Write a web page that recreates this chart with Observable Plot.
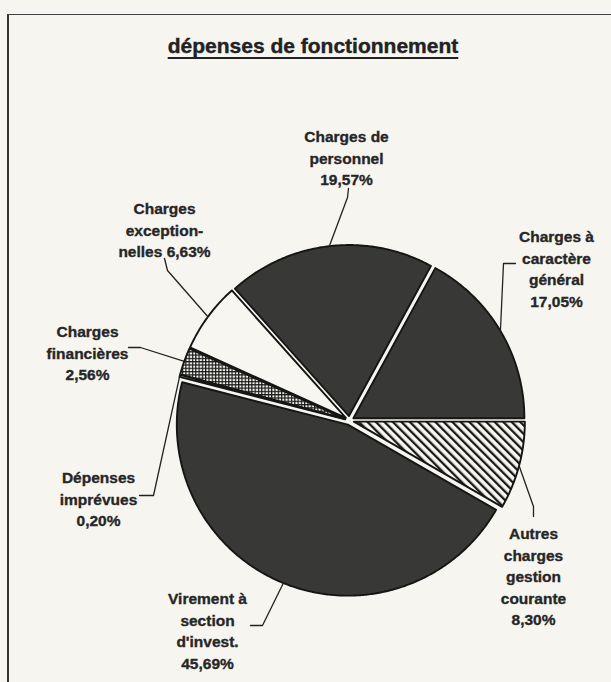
<!DOCTYPE html>
<html>
<head>
<meta charset="utf-8">
<script src="https://cdn.jsdelivr.net/npm/d3@7"></script>
<script src="https://cdn.jsdelivr.net/npm/@observablehq/plot@0.6"></script>
<style>
  html, body { margin: 0; padding: 0; background: #f6f5f0; }
  #wrap { position: relative; width: 611px; height: 682px; overflow: hidden; background: #f6f5f0;
          font-family: "Liberation Sans", Arial, Helvetica, sans-serif; }
  #frame { position: absolute; left: 7px; top: 14px; width: 700px; height: 800px;
           border-left: 2px solid #333; border-top: 1.5px solid #444; }
  #title { position: absolute; top: 34px; left: 0; width: 626px; text-align: center;
           font-weight: bold; font-size: 21px; line-height: 24px; color: #222;
           -webkit-text-stroke: 0.4px #222;
           text-decoration: underline; text-decoration-thickness: 2px; text-underline-offset: 4px; }
  #chart { position: absolute; top: 90px; left: 0; }
</style>
</head>
<body>
<svg width="0" height="0" style="position:absolute">
  <defs>
    <pattern id="cross" width="3.3" height="3.3" patternUnits="userSpaceOnUse">
      <rect width="3.3" height="3.3" fill="#f7f6f1"/>
      <path d="M0 0.6H3.3M0.6 0V3.3" stroke="#1a1a1a" stroke-width="1.2"/>
    </pattern>
    <pattern id="stripes" width="6" height="6" patternUnits="userSpaceOnUse" patternTransform="rotate(-45)">
      <rect width="6" height="6" fill="#f7f6f1"/>
      <rect width="2.3" height="6" fill="#1a1a1a"/>
    </pattern>
  </defs>
</svg>
<div id="wrap">
  <div id="frame"></div>
  <div id="title">dépenses de fonctionnement</div>
  <div id="chart"></div>
</div>
<script>
// ---- data ----
const categories = [
  "Charges à caractère général",
  "Charges de personnel",
  "Charges exceptionnelles",
  "Charges financières",
  "Dépenses imprévues",
  "Virement à section d'invest.",
  "Autres charges gestion courante"
];
const shares = [17.05, 19.57, 6.63, 2.56, 0.20, 45.69, 8.30];
const labelNames = [
  "Charges à\ncaractère\ngénéral\n",
  "Charges de\npersonnel\n",
  "Charges\nexception-\nnelles ",
  "Charges\nfinancières\n",
  "Dépenses\nimprévues\n",
  "Virement à\nsection\nd'invest.\n",
  "Autres\ncharges\ngestion\ncourante\n"
];

// ---- styles / layout (not data) ----
const DARK = "#383836";
const PAPER = "#f7f6f1";
const fills = [DARK, DARK, PAPER, "url(#cross)", PAPER, DARK, "url(#stripes)"];
// label anchor (first line centre) and leader elbows, in px relative to pie centre (y down)
const labelLayout = [
  {label: [207, -188], leader: [[154, -157], [166, -157]]},
  {label: [-3, -288],  leader: [[-2, -223], [-1, -232]]},
  {label: [-185, -216], leader: [[-182, -150], [-185, -162]]},
  {label: [-262, -93], leader: [[-209, -73], [-221, -73]]},
  {label: [-251, 53],  leader: [[-196, 75], [-210, 75]]},
  {label: [-142, 174], leader: [[-87, 205], [-99, 205]]},
  {label: [184, 109],  leader: [[184, 86], [184, 96]]}
];

const W = 611, H = 592;     // svg size
const R = 171;              // pie radius, px
const cx = 349, cy = 330;   // pie centre in svg px
const explodePx = 4.5;
const fontSize = 15.5;

const fmt = v => d3.format(".2f")(v).replace(".", ",") + "%";

// pie angles from the data: start at 3 o'clock, counter-clockwise
const arcs = d3.pie().sort(null).value(d => d)(shares);
const ex = explodePx / R;

const slicePts = [];
const leaderPts = [];
const labelRows = [];
arcs.forEach((a, i) => {
  const t0 = a.startAngle, t1 = a.endAngle, tm = (t0 + t1) / 2;
  const ox = ex * Math.cos(tm), oy = ex * Math.sin(tm);
  slicePts.push({id: i, x: ox, y: oy});
  const n = Math.max(2, Math.ceil((t1 - t0) / (Math.PI / 360)));
  for (let k = 0; k <= n; k++) {
    const t = t0 + (t1 - t0) * k / n;
    slicePts.push({id: i, x: ox + Math.cos(t), y: oy + Math.sin(t)});
  }
  const L = labelLayout[i];
  leaderPts.push({id: i, x: (1 + ex) * Math.cos(tm), y: (1 + ex) * Math.sin(tm)});
  for (const [px, py] of L.leader) leaderPts.push({id: i, x: px / R, y: -py / R});
  labelRows.push({
    name: categories[i],
    text: labelNames[i] + fmt(shares[i]),
    x: L.label[0] / R,
    y: -(L.label[1] - 0.36 * fontSize) / R
  });
});

const chart = Plot.plot({
  width: W,
  height: H,
  margin: 0,
  x: {domain: [-cx / R, (W - cx) / R], axis: null},
  y: {domain: [-(H - cy) / R, cy / R], axis: null},
  color: {type: "identity"},
  style: {background: "transparent", overflow: "visible"},
  marks: [
    Plot.line(slicePts, {
      x: "x", y: "y", z: "id",
      fill: d => fills[d.id],
      stroke: "#151515", strokeWidth: 1.9, strokeLinejoin: "round",
      curve: "linear-closed"
    }),
    Plot.line(leaderPts, {
      x: "x", y: "y", z: "id",
      stroke: "#222", strokeWidth: 1.3, strokeLinejoin: "round"
    }),
    Plot.text(labelRows, {
      x: "x", y: "y", text: "text",
      fontSize: fontSize, fontWeight: "bold",
      fontFamily: "Liberation Sans, Arial, sans-serif",
      lineAnchor: "top", lineHeight: 1.39,
      fill: "#262626", stroke: "#262626", strokeWidth: 0.35,
      textAnchor: "middle"
    })
  ]
});
document.getElementById("chart").appendChild(chart);
</script>
</body>
</html>
